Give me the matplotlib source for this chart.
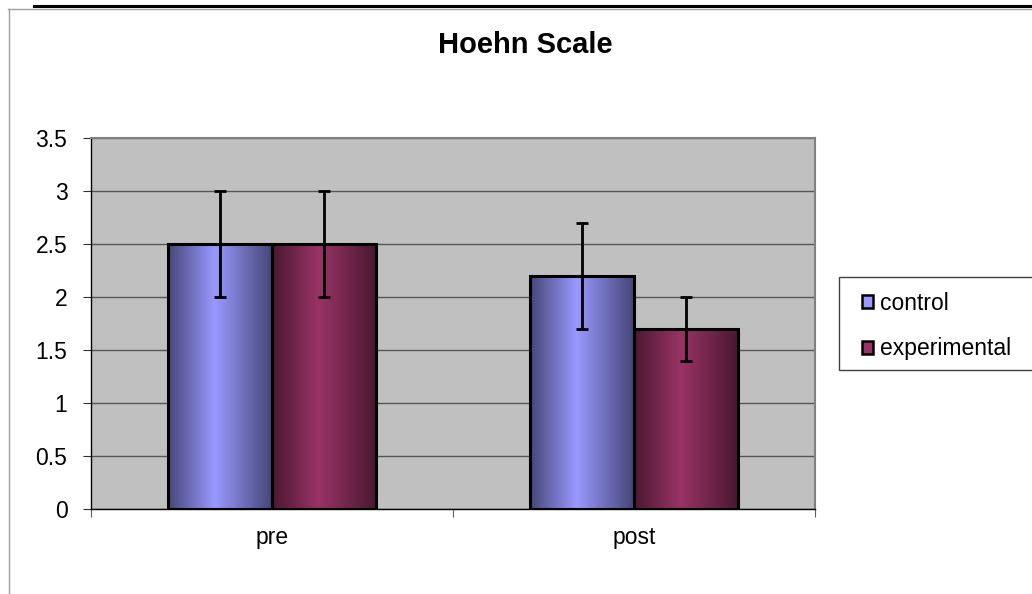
import numpy as np
import matplotlib
matplotlib.use('Agg')
import matplotlib.pyplot as plt
from matplotlib.colors import to_rgb
from matplotlib.patches import Patch, Rectangle
from matplotlib.lines import Line2D

plt.rcParams['font.family'] = ['Liberation Sans', 'DejaVu Sans']

# data
categories = ['pre', 'post']
series = ['control', 'experimental']
control = [2.5, 2.2]
experimental = [2.5, 1.7]
control_err = [0.5, 0.5]
experimental_err = [0.5, 0.3]
y_ticks = [0, 0.5, 1, 1.5, 2, 2.5, 3, 3.5]

W, H = 1032, 594
fig = plt.figure(figsize=(W / 100, H / 100), dpi=100)
ax = fig.add_axes([91 / W, 1 - 509 / H, (815 - 91) / W, (509 - 138) / H])
ax.set_facecolor('#C0C0C0')

x = np.arange(len(categories))
w = 0.287


def gradient_bars(bars, light, dark):
    # Excel-style "cylinder" shading: dark edges, light band near the middle
    light = np.array(to_rgb(light))
    dark = np.array(to_rgb(dark))
    u = np.linspace(0, 1, 300)
    p = 0.45
    t = np.where(u < p, u / p, (1 - u) / (1 - p))
    img = (dark + (light - dark) * t[:, None])[None, :, :]
    for b in bars:
        x0, y0 = b.get_x(), b.get_y()
        im = ax.imshow(img, extent=(x0, x0 + b.get_width(), y0, y0 + b.get_height()),
                       aspect='auto', zorder=2, interpolation='bilinear')
        im.set_clip_path(b)


b1 = ax.bar(x - w / 2, control, width=w, facecolor='none', edgecolor='black', lw=2.2, zorder=3)
b2 = ax.bar(x + w / 2, experimental, width=w, facecolor='none', edgecolor='black', lw=2.2, zorder=3)
gradient_bars(b1, '#9999FF', '#464678')
gradient_bars(b2, '#993366', '#4A1830')

ax.errorbar(x - w / 2, control, yerr=control_err, fmt='none', ecolor='black',
            elinewidth=2.0, capsize=4.5, capthick=2.0, zorder=5)
ax.errorbar(x + w / 2, experimental, yerr=experimental_err, fmt='none', ecolor='black',
            elinewidth=2.0, capsize=4.5, capthick=2.0, zorder=5)

ax.set_xlim(-0.5, len(categories) - 0.5)
ax.set_ylim(0, 3.5)
ax.set_yticks(y_ticks)
ax.set_yticklabels([f'{v:g}' for v in y_ticks], fontsize=16.5)
ax.yaxis.grid(True, color='#555555', lw=1.0)
ax.set_axisbelow(True)

ax.set_xticks(np.arange(len(categories) + 1) - 0.5)
ax.set_xticklabels([])
ax.set_xticks(x, minor=True)
ax.set_xticklabels(categories, minor=True, fontsize=16.5)
ax.tick_params(axis='x', which='major', length=6, color='#606060', direction='out')
ax.tick_params(axis='x', which='minor', length=0, pad=12)
ax.tick_params(axis='y', length=6, pad=11, color='#303030')

for s in ['top', 'right']:
    ax.spines[s].set_color('#808080')
    ax.spines[s].set_linewidth(1.5)
for s in ['left', 'bottom']:
    ax.spines[s].set_color('black')
    ax.spines[s].set_linewidth(1.0)

fig.text(525 / W, 1 - 45 / H, 'Hoehn Scale', ha='center', va='center',
         fontsize=21, fontweight='bold')

# legend frame runs off the right edge, like in the original
fig.patches.append(Rectangle((839 / W, 1 - 370 / H), (1045 - 839) / W, 93 / H,
                             transform=fig.transFigure, facecolor='white',
                             edgecolor='#404040', lw=1.0, zorder=-1))
handles = [Patch(facecolor='#9999FF', edgecolor='black', lw=1.8),
           Patch(facecolor='#993366', edgecolor='black', lw=1.8)]
leg = fig.legend(handles=handles, labels=series, loc='center left',
                 bbox_to_anchor=(862 / W, 1 - 326 / H), bbox_transform=fig.transFigure,
                 frameon=False, fontsize=16.5, handlelength=0.5, handleheight=0.5,
                 handletextpad=0.3, labelspacing=1.0, borderaxespad=0, borderpad=0)
leg.set_zorder(10)

# outer frame bits of the sheet
fig.add_artist(Line2D([34 / W, 1], [1 - 5.5 / H] * 2, color='black', lw=2.2,
                      transform=fig.transFigure))
fig.add_artist(Line2D([8 / W, 1], [1 - 8.5 / H] * 2, color='#a0a0a0', lw=1.0,
                      transform=fig.transFigure))
fig.add_artist(Line2D([8.5 / W] * 2, [0, 1 - 8.5 / H], color='#a0a0a0', lw=1.0,
                      transform=fig.transFigure))

fig.savefig('out.png', dpi=100)
